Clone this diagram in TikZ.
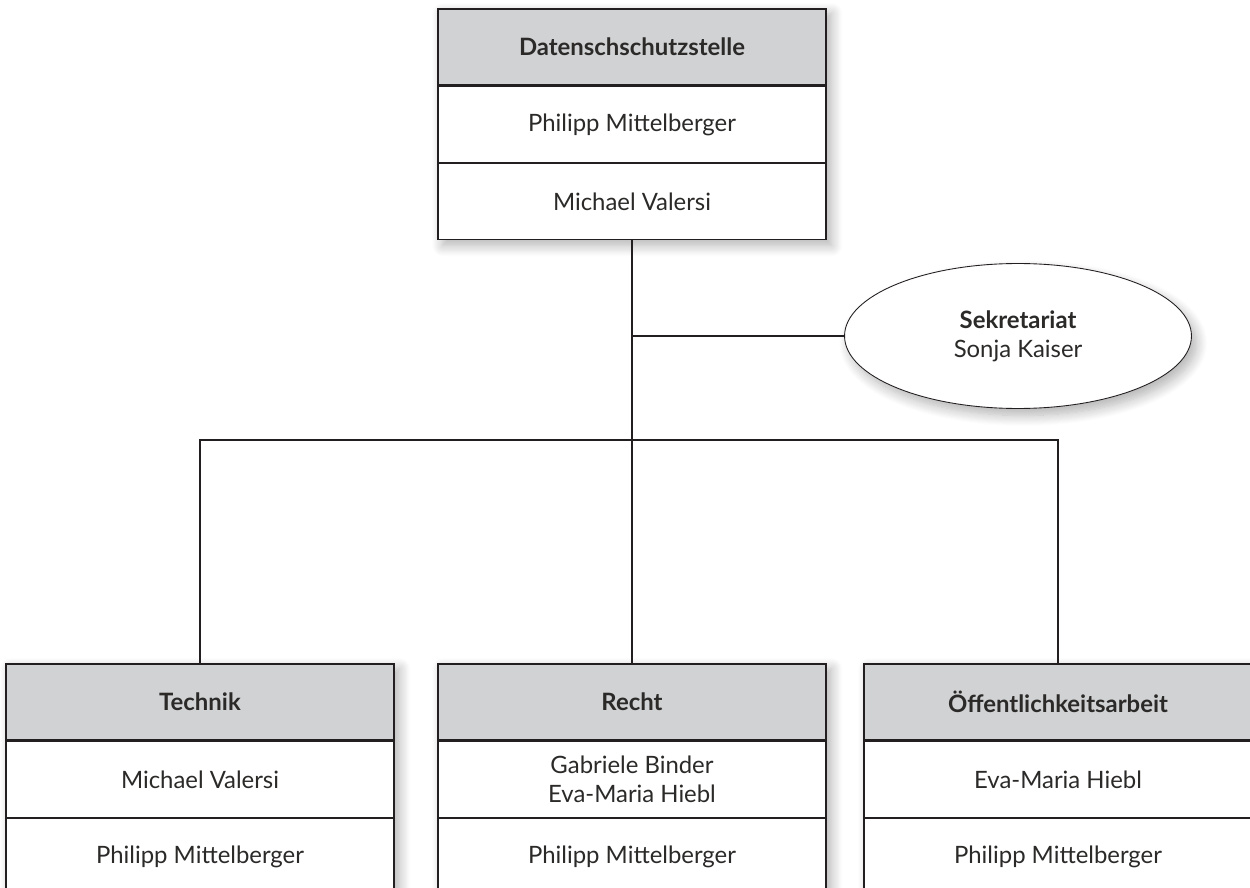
\documentclass[tikz,border=0pt]{standalone}
\usepackage{fontspec}
\setmainfont{Lato}
\usetikzlibrary{positioning,shapes.geometric,shadows.blur,fit,backgrounds}
\definecolor{headgray}{HTML}{D1D2D4}
\definecolor{linedark}{HTML}{231F20}
\definecolor{textdark}{HTML}{2B2A29}

\begin{document}
\begin{tikzpicture}[x=0.02cm,y=-0.02cm,
    every node/.style={text=textdark,font=\fontsize{13.6}{16.5}\selectfont},
    cell/.style={draw=linedark,line width=0.8pt,fill=white,minimum width=7.76cm,
        minimum height=1.52cm,inner sep=0pt,align=center},
    headcell/.style={cell,fill=headgray,font=\fontsize{13.6}{16.5}\selectfont\bfseries},
    boxshadow/.style={inner sep=0pt,fill=white,blur shadow={shadow xshift=3pt,
        shadow yshift=-3pt,shadow blur steps=12,shadow blur radius=6pt,shadow opacity=30}},
    link/.style={draw=linedark,line width=0.8pt}]
    \useasboundingbox (0,0) rectangle (1250,888);
    % Datenschutzstelle
    \node[headcell] (dss) at (632,47) {Datenschschutzstelle};
    \node[cell,below=0pt of dss] (dssA) {Philipp Mittelberger};
    \node[cell,below=0pt of dssA] (dssB) {Michael Valersi};
    % Sekretariat
    \node[ellipse,draw=linedark,line width=0.5pt,fill=white,minimum width=6.94cm,
        minimum height=2.9cm,align=center,blur shadow={shadow xshift=3pt,
        shadow yshift=-4pt,shadow blur steps=12,shadow blur radius=6pt,shadow opacity=30}]
        (sek) at (1018,336) {\textbf{Sekretariat}\\Sonja Kaiser};
    % Abteilungen
    \node[headcell] (tech) at (200,702) {Technik};
    \node[cell,below=0pt of tech] (techA) {Michael Valersi};
    \node[cell,below=0pt of techA] (techB) {Philipp Mittelberger};
    \node[headcell] (recht) at (632,702) {Recht};
    \node[cell,below=0pt of recht] (rechtA) {Gabriele Binder\\Eva-Maria Hiebl};
    \node[cell,below=0pt of rechtA] (rechtB) {Philipp Mittelberger};
    \node[headcell] (oeff) at (1058,702) {Öffentlichkeitsarbeit};
    \node[cell,below=0pt of oeff] (oeffA) {Eva-Maria Hiebl};
    \node[cell,below=0pt of oeffA] (oeffB) {Philipp Mittelberger};
    \begin{scope}[on background layer]
        \foreach \b in {dss,tech,recht,oeff}
            \node[boxshadow,fit=(\b)(\b B)] {};
    \end{scope}
    % Linien
    \coordinate (bus) at (dssB.south |- 0,440);
    \draw[link] (dssB.south) -- (bus);
    \draw[link] (dssB.south |- sek.west) -- (sek.west);
    \draw[link] (tech.north) |- (bus) -| (oeff.north);
    \draw[link] (bus) -- (recht.north);
\end{tikzpicture}
\end{document}
